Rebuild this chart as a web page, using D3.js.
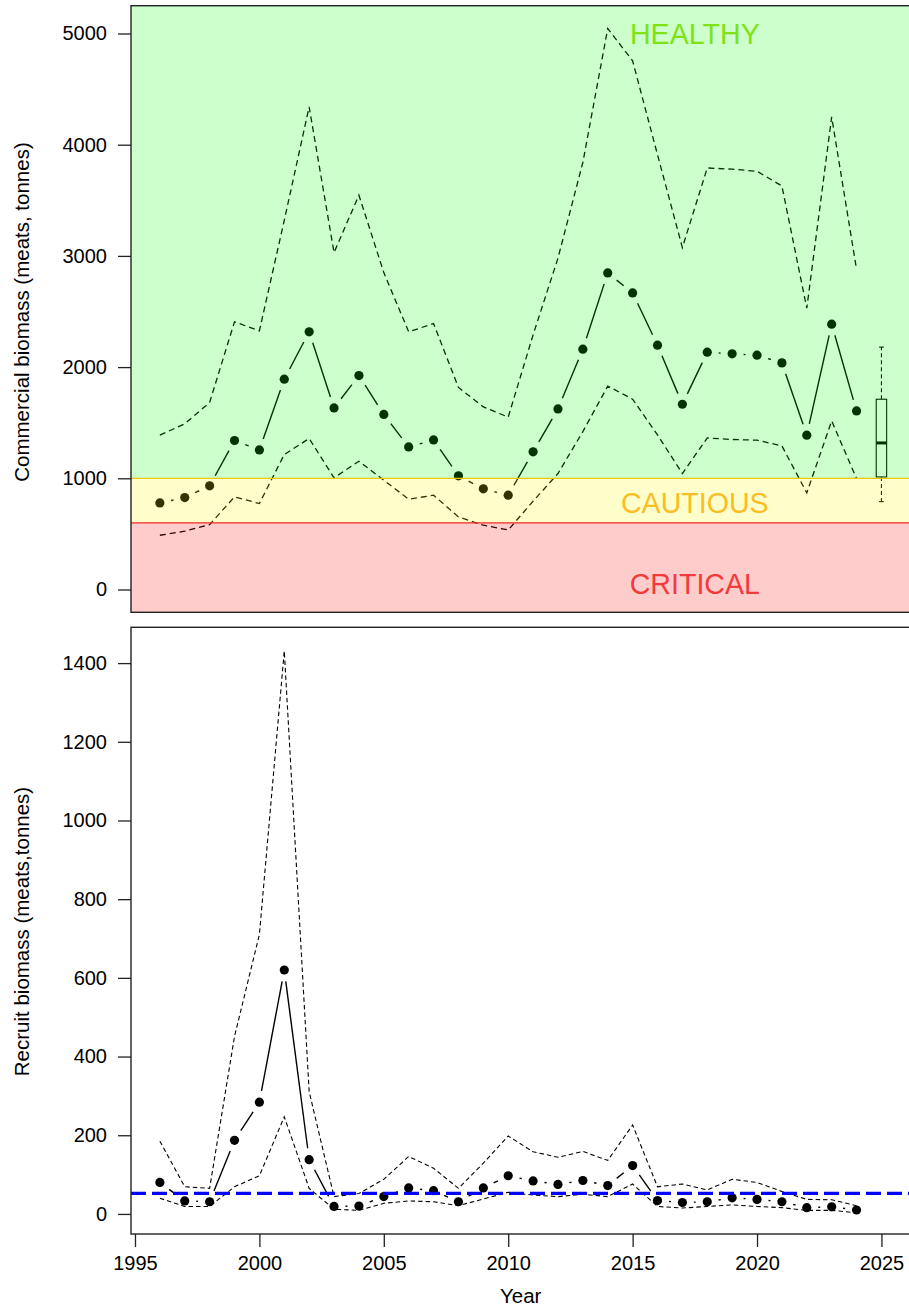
<!DOCTYPE html>
<html>
<head>
<meta charset="utf-8">
<script src="https://cdn.jsdelivr.net/npm/d3@7"></script>
<style>
  html, body { margin: 0; padding: 0; background: #ffffff; }
  svg { display: block; }
  text { font-family: "Liberation Sans", Arial, Helvetica, sans-serif; }
</style>
</head>
<body>
<div id="chart"></div>
<script>
// ---- data ----------------------------------------------------------------
const years = [1996, 1997, 1998, 1999, 2000, 2001, 2002, 2003, 2004, 2005,
               2006, 2007, 2008, 2009, 2010, 2011, 2012, 2013, 2014, 2015,
               2016, 2017, 2018, 2019, 2020, 2021, 2022, 2023, 2024];

// Commercial biomass (meats, tonnes): median and credible bounds
const commercial = [779, 827, 932, 1340, 1255, 1891, 2317, 1633, 1924, 1574,
                    1282, 1345, 1022, 905, 848, 1238, 1624, 2161, 2847, 2667,
                    2197, 1666, 2134, 2119, 2107, 2038, 1388, 2386, 1606];
const commercialUpper = [1388, 1490, 1682, 2407, 2326, 3320, 4340, 3030, 3546, 2850,
                         2317, 2392, 1817, 1642, 1550, 2290, 2980, 3840, 5045, 4754,
                         3910, 3075, 3791, 3780, 3761, 3629, 2530, 4250, 2878];
const commercialLower = [488, 524, 584, 833, 773, 1214, 1358, 1004, 1154, 983,
                         812, 848, 653, 578, 535, 794, 1043, 1420, 1829, 1712,
                         1390, 1043, 1363, 1349, 1343, 1292, 869, 1516, 998];

// Projected commercial biomass for the following year (box-and-whisker)
const projectionYear = 2025;
const projectionStats = [790, 1012, 1318, 1711, 2180]; // whisker low, Q1, median, Q3, whisker high

// Recruit biomass (meats, tonnes)
const recruit = [80, 33, 31, 187, 284, 620, 138, 19, 20, 44,
                 66, 59, 31, 66, 97, 84, 75, 85, 72, 123,
                 34, 29, 31, 41, 37, 31, 16, 18, 10];
const recruitUpper = [185, 69, 65, 451, 710, 1431, 311, 44, 52, 88,
                      146, 116, 65, 129, 198, 158, 144, 159, 136, 226,
                      69, 76, 61, 88, 80, 57, 37, 36, 21];
const recruitLower = [40, 19, 19, 69, 97, 247, 65, 12, 9, 27,
                      33, 31, 21, 38, 55, 48, 44, 50, 44, 76,
                      19, 15, 19, 23, 19, 16, 9, 9, 3];
const recruitReference = 52;

// Stock status zones
const zoneNames = ["CRITICAL", "CAUTIOUS", "HEALTHY"];
const zoneBounds = [[-Infinity, 600], [600, 1000], [1000, Infinity]];
const zoneLabelValues = [50, 780, 5000];
const zoneLabelYear = 2017.5;

// Axis ticks
const commercialTicks = [0, 1000, 2000, 3000, 4000, 5000];
const recruitTicks = [0, 200, 400, 600, 800, 1000, 1200, 1400];
const yearTicks = [1995, 2000, 2005, 2010, 2015, 2020, 2025];

// ---- layout --------------------------------------------------------------
const W = 909, H = 1308;
const left = 131, right = 910.3;
const top1 = 5.7, bottom1 = 612.3;
const top2 = 627.3, bottom2 = 1234;

const zoneFill = ["rgba(255,0,0,0.2)", "rgba(255,255,0,0.2)", "rgba(0,255,0,0.2)"];
const zoneText = ["#f23a3a", "#fbbd24", "#7ee214"];

const svg = d3.select("#chart").append("svg")
  .attr("width", W).attr("height", H)
  .attr("viewBox", `0 0 ${W} ${H}`);

svg.append("rect").attr("width", W).attr("height", H).attr("fill", "#ffffff");

const x = d3.scaleLinear().domain([1994.84, 2026.16]).range([left, right]);
const y1 = d3.scaleLinear().domain([-205, 5250]).range([bottom1, top1]);
const y2 = d3.scaleLinear().domain([-51, 1491]).range([bottom2, top2]);

// clip paths for the two plotting regions
const defs = svg.append("defs");
defs.append("clipPath").attr("id", "clip1")
  .append("rect").attr("x", left).attr("y", top1)
  .attr("width", right - left).attr("height", bottom1 - top1);
defs.append("clipPath").attr("id", "clip2")
  .append("rect").attr("x", left).attr("y", top2)
  .attr("width", right - left).attr("height", bottom2 - top2);

// line joining points with a gap around every point
function gappedSegments(g, xs, ys, gap, stroke, width) {
  for (let i = 0; i < xs.length - 1; i++) {
    const x0 = xs[i], y0 = ys[i], xa = xs[i + 1], ya = ys[i + 1];
    const dx = xa - x0, dy = ya - y0;
    const len = Math.hypot(dx, dy);
    if (len <= 2 * gap) continue;
    const ux = dx / len, uy = dy / len;
    g.append("line")
      .attr("x1", x0 + ux * gap).attr("y1", y0 + uy * gap)
      .attr("x2", xa - ux * gap).attr("y2", ya - uy * gap)
      .attr("stroke", stroke).attr("stroke-width", width);
  }
}

function drawSeries(g, yScale, mid, lo, hi, dash, dashWidth) {
  const line = d3.line().x((d, i) => x(years[i])).y(d => yScale(d));
  [hi, lo].forEach(arr => {
    g.append("path").datum(arr)
      .attr("d", line)
      .attr("fill", "none")
      .attr("stroke", "#000")
      .attr("stroke-width", dashWidth)
      .attr("stroke-dasharray", dash);
  });
  gappedSegments(g, years.map(x), mid.map(yScale), 11.5, "#000", 1.4);
  g.selectAll("circle.pt").data(mid).enter().append("circle")
    .attr("class", "pt")
    .attr("cx", (d, i) => x(years[i]))
    .attr("cy", d => yScale(d))
    .attr("r", 4.6)
    .attr("fill", "#000");
}

function yAxis(yScale, ticks) {
  const g = svg.append("g").attr("transform", `translate(${left},0)`)
    .call(d3.axisLeft(yScale).tickValues(ticks).tickSize(13).tickPadding(11).tickFormat(d3.format("d")));
  g.select(".domain").remove();
  g.selectAll(".tick line").attr("stroke", "#222").attr("stroke-width", 1.3);
  g.selectAll(".tick text").attr("font-size", 20).attr("fill", "#000")
    .attr("font-family", "'Liberation Sans', Arial, sans-serif");
}

function frame(t, b) {
  svg.append("rect").attr("x", left).attr("y", t)
    .attr("width", right - left).attr("height", b - t)
    .attr("fill", "none").attr("stroke", "#222").attr("stroke-width", 1.4);
}

// ---- commercial biomass panel ---------------------------------------------
const p1 = svg.append("g").attr("clip-path", "url(#clip1)");
drawSeries(p1, y1, commercial, commercialLower, commercialUpper, "6,4", 1.3);

// projection box-and-whisker
const [wLo, q1, med, q3, wHi] = projectionStats;
const bx = x(projectionYear), bHalf = 5.2, capHalf = 2.4;
p1.append("line").attr("x1", bx).attr("x2", bx).attr("y1", y1(q3)).attr("y2", y1(wHi))
  .attr("stroke", "#000").attr("stroke-width", 1.1).attr("stroke-dasharray", "4,3");
p1.append("line").attr("x1", bx).attr("x2", bx).attr("y1", y1(q1)).attr("y2", y1(wLo))
  .attr("stroke", "#000").attr("stroke-width", 1.1).attr("stroke-dasharray", "4,3");
[wLo, wHi].forEach(v => p1.append("line")
  .attr("x1", bx - capHalf).attr("x2", bx + capHalf).attr("y1", y1(v)).attr("y2", y1(v))
  .attr("stroke", "#000").attr("stroke-width", 1.1));
p1.append("rect").attr("x", bx - bHalf).attr("y", y1(q3))
  .attr("width", 2 * bHalf).attr("height", y1(q1) - y1(q3))
  .attr("fill", "#fff").attr("stroke", "#000").attr("stroke-width", 1.1);
p1.append("line").attr("x1", bx - bHalf).attr("x2", bx + bHalf).attr("y1", y1(med)).attr("y2", y1(med))
  .attr("stroke", "#000").attr("stroke-width", 3);

// status zones laid over the series
const yDom = y1.domain();
zoneBounds.forEach((b, i) => {
  const lo = Math.max(b[0], yDom[0]), hi = Math.min(b[1], yDom[1]);
  p1.append("rect").attr("x", left).attr("width", right - left)
    .attr("y", y1(hi)).attr("height", y1(lo) - y1(hi))
    .attr("fill", zoneFill[i]);
});
// zone boundaries
p1.append("line").attr("x1", left).attr("x2", right)
  .attr("y1", y1(zoneBounds[1][0])).attr("y2", y1(zoneBounds[1][0]))
  .attr("stroke", "#f52a1e").attr("stroke-width", 1.2);
p1.append("line").attr("x1", left).attr("x2", right)
  .attr("y1", y1(zoneBounds[2][0])).attr("y2", y1(zoneBounds[2][0]))
  .attr("stroke", "#f2c400").attr("stroke-width", 1.2);

zoneNames.forEach((name, i) => {
  p1.append("text")
    .attr("x", x(zoneLabelYear)).attr("y", y1(zoneLabelValues[i]))
    .attr("text-anchor", "middle").attr("dominant-baseline", "central")
    .attr("font-size", 28.6).attr("fill", zoneText[i])
    .text(name);
});

frame(top1, bottom1);
yAxis(y1, commercialTicks);

svg.append("text")
  .attr("transform", `translate(28.5,312) rotate(-90)`)
  .attr("text-anchor", "middle").attr("font-size", 20.5).attr("fill", "#000")
  .text("Commercial biomass (meats, tonnes)");

// ---- recruit biomass panel ------------------------------------------------
const p2 = svg.append("g").attr("clip-path", "url(#clip2)");
drawSeries(p2, y2, recruit, recruitLower, recruitUpper, "4.5,3", 1.1);

p2.append("line").attr("x1", left).attr("x2", right)
  .attr("y1", y2(recruitReference)).attr("y2", y2(recruitReference))
  .attr("stroke", "#0000ff").attr("stroke-width", 3.2)
  .attr("stroke-dasharray", "15,6");

frame(top2, bottom2);
yAxis(y2, recruitTicks);

const xg = svg.append("g").attr("transform", `translate(0,${bottom2})`)
  .call(d3.axisBottom(x).tickValues(yearTicks).tickSize(13).tickPadding(9).tickFormat(d3.format("d")));
xg.select(".domain").remove();
xg.selectAll(".tick line").attr("stroke", "#222").attr("stroke-width", 1.3);
xg.selectAll(".tick text").attr("font-size", 20).attr("fill", "#000")
  .attr("font-family", "'Liberation Sans', Arial, sans-serif");

svg.append("text")
  .attr("transform", `translate(28.5,931.5) rotate(-90)`)
  .attr("text-anchor", "middle").attr("font-size", 20.5).attr("fill", "#000")
  .text("Recruit biomass (meats,tonnes)");

svg.append("text")
  .attr("x", (left + right) / 2).attr("y", 1303)
  .attr("text-anchor", "middle").attr("font-size", 20.5).attr("fill", "#000")
  .text("Year");
</script>
</body>
</html>
